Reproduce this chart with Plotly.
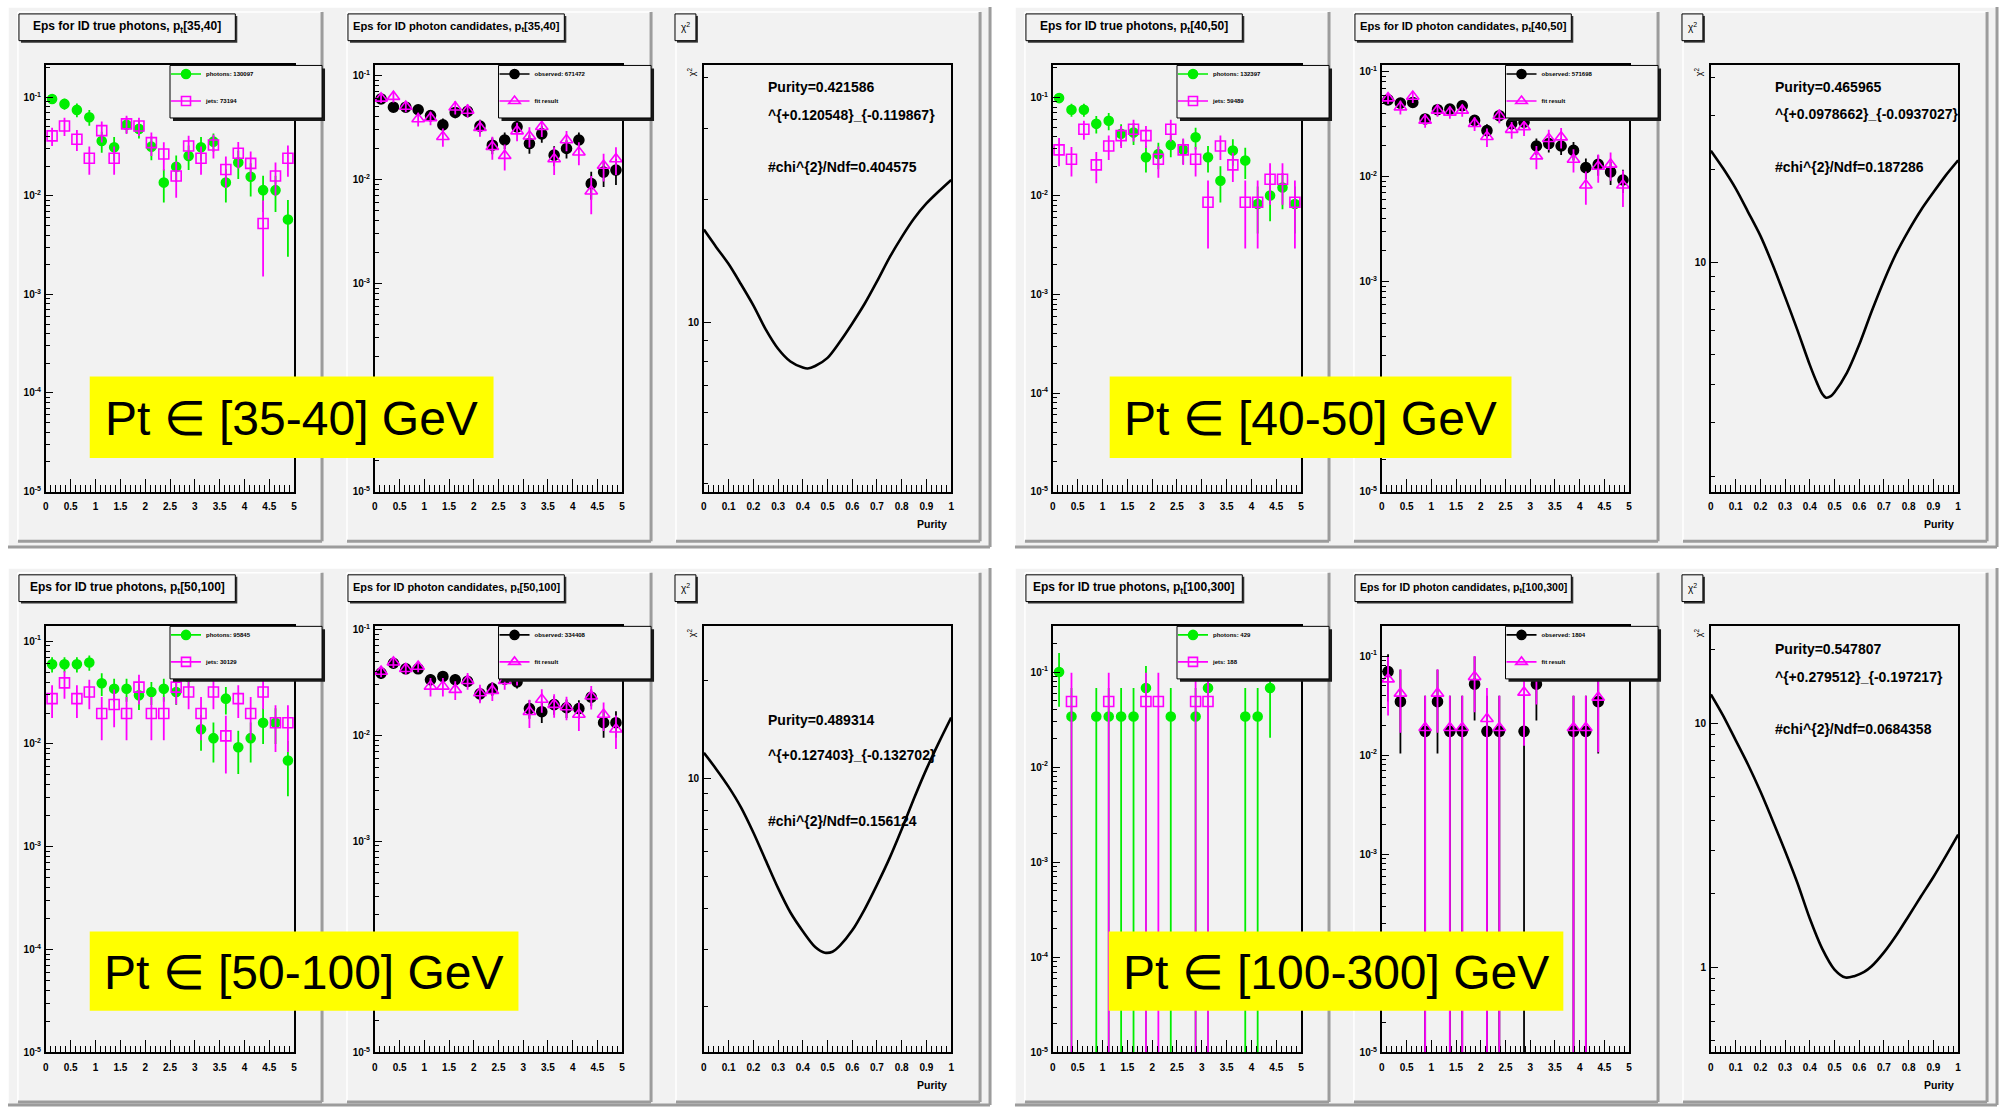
import plotly.graph_objects as go

W, H = 2010, 1112

# ---------------------------------------------------------------- data
BIN_CENTERS = [0.125, 0.375, 0.625, 0.875, 1.125, 1.375, 1.625, 1.875, 2.125, 2.375,
               2.625, 2.875, 3.125, 3.375, 3.625, 3.875, 4.125, 4.375, 4.625, 4.875]
X_TICKS = [0, 0.5, 1, 1.5, 2, 2.5, 3, 3.5, 4, 4.5, 5]
X_TICK_TEXT = ["0", "0.5", "1", "1.5", "2", "2.5", "3", "3.5", "4", "4.5", "5"]
PUR_TICKS = [0, 0.1, 0.2, 0.3, 0.4, 0.5, 0.6, 0.7, 0.8, 0.9, 1]
PUR_TICK_TEXT = ["0", "0.1", "0.2", "0.3", "0.4", "0.5", "0.6", "0.7", "0.8", "0.9", "1"]
Y_DECADES = [1e-5, 1e-4, 1e-3, 1e-2, 1e-1]
Y_DECADE_TEXT = ["10<sup>-5</sup>", "10<sup>-4</sup>", "10<sup>-3</sup>", "10<sup>-2</sup>", "10<sup>-1</sup>"]
# panel-2 decade labels: the 10^-4 label sits underneath the yellow banner
Y_DECADE_TEXT_P2 = ["10<sup>-5</sup>", "", "10<sup>-3</sup>", "10<sup>-2</sup>", "10<sup>-1</sup>"]

PT_BINS = ["[35,40]", "[40,50]", "[50,100]", "[100,300]"]
PT_LABELS = ["Pt \u2208 [35-40] GeV", "Pt \u2208 [40-50] GeV", "Pt \u2208 [50-100] GeV", "Pt \u2208 [100-300] GeV"]
PHOTON_COUNTS = ["photons: 130097", "photons: 132397", "photons: 95845", "photons: 429"]
JET_COUNTS = ["jets: 73194", "jets: 59489", "jets: 30129", "jets: 188"]
OBSERVED_COUNTS = ["observed: 671472", "observed: 571698", "observed: 334408", "observed: 1804"]

# --- pt [35,40]
A_PHOT = [0.096, 0.0855, 0.0743, 0.0627, 0.036, 0.031, 0.0524, 0.0477, 0.0315, 0.0136,
          0.0197, 0.0253, 0.031, 0.0354, 0.0136, 0.0217, 0.0156, 0.0114, 0.0114, 0.00575]
A_PHOT_REL = [0.11, 0.13, 0.16, 0.18, 0.24, 0.27, 0.18, 0.2, 0.27, 0.37,
              0.3, 0.28, 0.27, 0.21, 0.37, 0.32, 0.37, 0.4, 0.4, 0.58]
A_JETS = [0.0405, 0.0511, 0.0374, 0.024, 0.0458, 0.024, 0.0536, 0.0511, 0.0346, 0.0265,
          0.0159, 0.032, 0.024, 0.0327, 0.0185, 0.027, 0.0213, 0.00523, 0.0159, 0.024]
A_JETS_REL = [0.21, 0.21, 0.24, 0.32, 0.24, 0.32, 0.21, 0.21, 0.27, 0.32,
              0.4, 0.27, 0.32, 0.27, 0.35, 0.3, 0.32, 0.71, 0.37, 0.35]
A_OBS = [0.0593, 0.0494, 0.0494, 0.0467, 0.041, 0.0334, 0.044, 0.045, 0.0325, 0.0213,
         0.0239, 0.032, 0.0221, 0.0274, 0.0171, 0.0198, 0.0239, 0.0091, 0.01175, 0.0123]
A_OBS_REL = [0.1, 0.1, 0.1, 0.1, 0.12, 0.15, 0.12, 0.12, 0.15, 0.18,
             0.18, 0.15, 0.2, 0.18, 0.22, 0.2, 0.18, 0.3, 0.28, 0.28]
A_FIT = [0.0601, 0.0624, 0.0501, 0.038, 0.0389, 0.0257, 0.0494, 0.0459, 0.0313, 0.0206,
         0.0169, 0.0291, 0.026, 0.032, 0.0157, 0.0239, 0.0182, 0.0077, 0.0136, 0.0157]
A_FIT_REL = [0.1, 0.12, 0.12, 0.15, 0.15, 0.2, 0.15, 0.15, 0.18, 0.25,
             0.28, 0.2, 0.22, 0.2, 0.3, 0.22, 0.25, 0.4, 0.3, 0.3]
A_CHI_X = [0, 0.05, 0.1, 0.15, 0.2, 0.25, 0.3, 0.35, 0.4, 0.42, 0.45, 0.5, 0.55, 0.6, 0.65,
           0.7, 0.75, 0.8, 0.85, 0.9, 0.95, 1.0]
A_CHI_Y = [16.9, 15.3, 13.9, 12.4, 11.0, 9.6, 8.6, 8.0, 7.73, 7.69, 7.8, 8.17, 8.95, 9.93, 11.1,
           12.6, 14.4, 16.2, 18.0, 19.6, 21.0, 22.4]
A_TEXT = ["Purity=0.421586", "^{+0.120548}_{-0.119867}", "#chi^{2}/Ndf=0.404575"]

# --- pt [40,50]
B_PHOT = [0.0985, 0.075, 0.075, 0.054, 0.058, 0.0428, 0.044, 0.0247, 0.0267, 0.033,
          0.0294, 0.0395, 0.0247, 0.0143, 0.0289, 0.0229, 0.0083, 0.0101, 0.0122, 0.0083]
B_PHOT_REL = [0.1, 0.15, 0.15, 0.2, 0.2, 0.25, 0.25, 0.3, 0.3, 0.25,
              0.28, 0.25, 0.3, 0.4, 0.3, 0.35, 0.5, 0.45, 0.4, 0.5]
B_JETS = [0.0294, 0.0236, 0.0476, 0.0207, 0.0322, 0.041, 0.0476, 0.041, 0.0236, 0.0476,
          0.0294, 0.0236, 0.00863, 0.0322, 0.0207, 0.00863, 0.00863, 0.0148, 0.0148, 0.00863]
B_JETS_REL = [0.32, 0.33, 0.22, 0.35, 0.28, 0.25, 0.25, 0.25, 0.35, 0.25,
              0.3, 0.33, 0.66, 0.28, 0.33, 0.66, 0.66, 0.45, 0.45, 0.66]
B_OBS = [0.054, 0.0502, 0.051, 0.0355, 0.0435, 0.044, 0.0474, 0.0344, 0.0275, 0.0381,
         0.032, 0.033, 0.0196, 0.0207, 0.0196, 0.0178, 0.0122, 0.0131, 0.0111, 0.0093]
B_OBS_REL = [0.1, 0.1, 0.1, 0.12, 0.1, 0.1, 0.1, 0.12, 0.15, 0.12,
             0.13, 0.13, 0.18, 0.18, 0.18, 0.2, 0.22, 0.22, 0.25, 0.25]
B_FIT = [0.056, 0.046, 0.058, 0.0344, 0.0428, 0.041, 0.0428, 0.032, 0.024, 0.0381,
         0.0281, 0.0298, 0.0157, 0.023, 0.0238, 0.0146, 0.0083, 0.0125, 0.0131, 0.0083]
B_FIT_REL = [0.12, 0.15, 0.13, 0.15, 0.13, 0.13, 0.13, 0.15, 0.2, 0.15,
             0.18, 0.18, 0.25, 0.22, 0.22, 0.25, 0.35, 0.3, 0.3, 0.38]
B_CHI_X = [0, 0.05, 0.1, 0.15, 0.2, 0.25, 0.3, 0.35, 0.4, 0.43, 0.45, 0.466, 0.485, 0.5, 0.55,
           0.6, 0.65, 0.7, 0.75, 0.8, 0.85, 0.9, 0.95, 1.0]
B_CHI_Y = [23.1, 20.2, 17.4, 14.6, 12.2, 9.8, 7.7, 6.0, 4.62, 4.02, 3.72, 3.61, 3.65, 3.76, 4.35,
           5.38, 6.9, 8.7, 10.7, 12.7, 14.8, 16.9, 19.2, 21.5]
B_TEXT = ["Purity=0.465965", "^{+0.0978662}_{-0.0937027}", "#chi^{2}/Ndf=0.187286"]

# --- pt [50,100]
C_PHOT = [0.0597, 0.0597, 0.0597, 0.062, 0.039, 0.0344, 0.0344, 0.0297, 0.032, 0.0344,
          0.032, 0.045, 0.0139, 0.0114, 0.0276, 0.0093, 0.0114, 0.0161, 0.0161, 0.0069]
C_PHOT_REL = [0.17, 0.17, 0.17, 0.17, 0.25, 0.25, 0.25, 0.28, 0.25, 0.25,
              0.25, 0.2, 0.38, 0.42, 0.3, 0.45, 0.42, 0.38, 0.38, 0.55]
C_JETS = [0.0276, 0.0393, 0.0276, 0.032, 0.0198, 0.0242, 0.0198, 0.0357, 0.0198, 0.0198,
          0.0357, 0.032, 0.0198, 0.032, 0.012, 0.0276, 0.0198, 0.032, 0.0161, 0.0161]
C_JETS_REL = [0.35, 0.3, 0.35, 0.32, 0.45, 0.4, 0.45, 0.32, 0.45, 0.45,
              0.32, 0.32, 0.45, 0.32, 0.57, 0.35, 0.45, 0.32, 0.48, 0.48]
C_OBS = [0.0387, 0.048, 0.0425, 0.0425, 0.0335, 0.036, 0.0335, 0.0323, 0.0246, 0.0276,
         0.034, 0.0319, 0.0179, 0.0167, 0.0195, 0.0182, 0.0179, 0.0229, 0.01315, 0.01315]
C_OBS_REL = [0.12, 0.1, 0.1, 0.1, 0.12, 0.12, 0.12, 0.12, 0.15, 0.15,
             0.12, 0.13, 0.2, 0.22, 0.2, 0.2, 0.2, 0.18, 0.28, 0.28]
C_FIT = [0.0401, 0.0491, 0.0425, 0.0447, 0.029, 0.029, 0.027, 0.0328, 0.0251, 0.0264,
         0.0328, 0.036, 0.0167, 0.0218, 0.0195, 0.0185, 0.0157, 0.0234, 0.0157, 0.0114]
C_FIT_REL = [0.12, 0.12, 0.12, 0.12, 0.2, 0.2, 0.2, 0.18, 0.2, 0.2,
             0.18, 0.18, 0.3, 0.25, 0.25, 0.25, 0.3, 0.25, 0.3, 0.35]
C_CHI_X = [0, 0.05, 0.1, 0.15, 0.2, 0.25, 0.3, 0.35, 0.4, 0.45, 0.489, 0.52, 0.55, 0.6, 0.65,
           0.7, 0.75, 0.8, 0.85, 0.9, 0.95, 1.0]
C_CHI_Y = [12.0, 10.7, 9.44, 8.17, 6.84, 5.62, 4.62, 3.89, 3.41, 3.05, 2.93, 2.95, 3.08, 3.43, 3.98,
           4.73, 5.69, 7.0, 8.71, 10.7, 12.9, 15.4]
C_TEXT = ["Purity=0.489314", "^{+0.127403}_{-0.132702}", "#chi^{2}/Ndf=0.156124"]

# --- pt [100,300]  (None = empty bin)
D_PHOT = [0.1, 0.034, None, 0.034, 0.034, 0.034, 0.034, 0.068, None, 0.034,
          None, 0.034, 0.068, None, None, 0.034, 0.034, 0.068, None, None]
D_PHOT_UP = [0.58, 1.0, None, 1.0, 1.0, 1.0, 1.0, 0.7, None, 1.0,
             None, 1.0, 0.7, None, None, 1.0, 1.0, 0.7, None, None]
D_PHOT_DN = [0.57, 1.0, None, 1.0, 1.0, 1.0, 1.0, 1.0, None, 1.0,
             None, 1.0, 1.0, None, None, 1.0, 1.0, 0.7, None, None]
D_JETS = [None, 0.049, None, None, 0.049, None, None, 0.049, 0.049, None,
          None, 0.049, 0.049, None, None, None, None, None, None, None]
D_JETS_UP = [None, 1.0, None, None, 1.0, None, None, 1.0, 1.0, None,
             None, 1.0, 1.0, None, None, None, None, None, None, None]
D_JETS_DN = D_JETS_UP
D_OBS = [0.0697, 0.0347, None, 0.0174, 0.0347, 0.0174, 0.0174, 0.052, 0.0174, 0.0174,
         None, 0.0174, 0.052, None, None, 0.0174, 0.0174, 0.0347, None, None]
D_OBS_UP = [0.5, 1.1, None, 1.29, 1.1, 1.29, 1.29, 0.9, 1.29, 1.29,
            None, 1.29, 0.9, None, None, 1.29, 1.29, 1.1, None, None]
D_OBS_DN = [0.5, 0.7, None, 1.0, 0.7, 1.0, 1.0, 0.57, 1.0, 1.0,
            None, 1.0, 0.57, None, None, 1.0, 1.0, 0.7, None, None]
D_FIT = [0.0585, 0.042, None, 0.0189, 0.042, 0.0189, 0.0189, 0.0617, 0.0233, 0.0189,
         None, 0.043, 0.065, None, None, 0.0189, 0.0189, 0.0383, None, None]
D_FIT_UP = [0.71, 0.75, None, 1.1, 0.75, 1.1, 1.1, 0.62, 1.04, 1.1,
            None, 0.8, 0.6, None, None, 1.1, 1.1, 0.71, None, None]
D_FIT_DN = [0.57, 0.6, None, 1.0, 0.6, 1.0, 1.0, 0.56, 1.0, 1.0,
            None, 0.71, 0.5, None, None, 1.0, 1.0, 0.72, None, None]
D_CHI_X = [0, 0.05, 0.1, 0.15, 0.2, 0.25, 0.3, 0.35, 0.4, 0.45, 0.5, 0.545, 0.58, 0.62, 0.65,
           0.7, 0.75, 0.8, 0.85, 0.9, 0.95, 1.0]
D_CHI_Y = [13.1, 10.7, 8.51, 6.76, 5.25, 3.98, 2.99, 2.21, 1.58, 1.19, 0.977, 0.906, 0.918, 0.955, 1.007,
           1.148, 1.35, 1.62, 1.95, 2.34, 2.85, 3.49]
D_TEXT = ["Purity=0.547807", "^{+0.279512}_{-0.197217}", "#chi^{2}/Ndf=0.0684358"]

# axis ranges (log10) per block
EFF_YMAX_LOG = [(-0.678, -0.905), (-0.675, -0.94), (-0.856, -0.97), (-0.52, -0.70)]
CHI_RANGE_LOG = [(0.583, 1.632), (0.251, 1.642), (0.161, 1.467), (-0.35, 1.396)]
CHI_TICKS = [[10], [10], [10], [1, 10]]
CHI_MINOR = [[4, 5, 6, 7, 8, 9, 20, 30, 40],
             [2, 3, 4, 5, 6, 7, 8, 9, 20, 30, 40],
             [2, 3, 4, 5, 6, 7, 8, 9, 20],
             [0.5, 0.6, 0.7, 0.8, 0.9, 2, 3, 4, 5, 6, 7, 8, 9, 20]]

# ---------------------------------------------------------------- layout geometry (pixels)
BLOCK_OFF = [(0, 0), (1010, 0), (0, 566), (1010, 566)]
PAD_X0 = [15, 345, 675]
PAD_W = 305
PAD_Y = (8, 542)
FRAME_X = [(43, 292), (373, 621), (703, 951)]
FRAME_Y = (62, 492)
CANVAS = (5, 3, 990, 548)
YELLOW = [(87, 376, 492, 458), (1110, 376, 1513, 458), (87, 936, 517, 1016), (1109, 936, 1565, 1016)]
CHI_TEXT_Y = [(84, 112, 164), (84, 111, 164), (722, 758, 824), (651, 679, 732)]
TITLE_SIZE = [(12, 11.2), (12, 11.2), (12, 10.9), (12, 10.6)]

PAD_COLOR = "#f2f2f2"
SHADOW = "#9c9c9c"
GREEN = "#00ee00"
MAGENTA = "#ff00ff"
FONT = "Liberation Sans"

blocks = [
    dict(phot=A_PHOT, phot_up=A_PHOT_REL, phot_dn=A_PHOT_REL, jets=A_JETS, jets_up=A_JETS_REL, jets_dn=A_JETS_REL,
         obs=A_OBS, obs_up=A_OBS_REL, obs_dn=A_OBS_REL, fit=A_FIT, fit_up=A_FIT_REL, fit_dn=A_FIT_REL,
         chix=A_CHI_X, chiy=A_CHI_Y, text=A_TEXT),
    dict(phot=B_PHOT, phot_up=B_PHOT_REL, phot_dn=B_PHOT_REL, jets=B_JETS, jets_up=B_JETS_REL, jets_dn=B_JETS_REL,
         obs=B_OBS, obs_up=B_OBS_REL, obs_dn=B_OBS_REL, fit=B_FIT, fit_up=B_FIT_REL, fit_dn=B_FIT_REL,
         chix=B_CHI_X, chiy=B_CHI_Y, text=B_TEXT),
    dict(phot=C_PHOT, phot_up=C_PHOT_REL, phot_dn=C_PHOT_REL, jets=C_JETS, jets_up=C_JETS_REL, jets_dn=C_JETS_REL,
         obs=C_OBS, obs_up=C_OBS_REL, obs_dn=C_OBS_REL, fit=C_FIT, fit_up=C_FIT_REL, fit_dn=C_FIT_REL,
         chix=C_CHI_X, chiy=C_CHI_Y, text=C_TEXT),
    dict(phot=D_PHOT, phot_up=D_PHOT_UP, phot_dn=D_PHOT_DN, jets=D_JETS, jets_up=D_JETS_UP, jets_dn=D_JETS_DN,
         obs=D_OBS, obs_up=D_OBS_UP, obs_dn=D_OBS_DN, fit=D_FIT, fit_up=D_FIT_UP, fit_dn=D_FIT_DN,
         chix=D_CHI_X, chiy=D_CHI_Y, text=D_TEXT),
]

# ---------------------------------------------------------------- helpers
fig = go.Figure()
shapes, annots, axes, legends = [], [], {}, {}


def X(px):
    return px / W


def Y(py):
    return 1 - py / H


def rect(x0, y0, x1, y1, fill, line=None, lw=0, layer="below"):
    shapes.append(dict(type="rect", xref="paper", yref="paper", x0=X(x0), x1=X(x1), y0=Y(y1), y1=Y(y0),
                       fillcolor=fill, line=dict(color=line or fill, width=lw), layer=layer))


def seg(x0, y0, x1, y1, color, lw, layer="below"):
    shapes.append(dict(type="line", xref="paper", yref="paper", x0=X(x0), x1=X(x1), y0=Y(y0), y1=Y(y1),
                       line=dict(color=color, width=lw), layer=layer))


def text(x, y, s, size, bold=True, xanchor="left", yanchor="middle", angle=0, color="black", family=FONT):
    annots.append(dict(xref="paper", yref="paper", x=X(x), y=Y(y), text=s, showarrow=False,
                       xanchor=xanchor, yanchor=yanchor, textangle=angle,
                       font=dict(family=family, size=size, color=color, weight="bold" if bold else "normal")))


def raised(x0, y0, x1, y1, fill):
    rect(x0, y0, x1, y1, fill)
    seg(x0, y0, x1, y0, "white", 1.5)
    seg(x0, y0, x0, y1, "white", 1.5)
    seg(x1, y0, x1, y1, SHADOW, 3)
    seg(x0, y1, x1, y1, SHADOW, 3)


def errs(vals, rel):
    return [v * r if (v is not None and r is not None) else None for v, r in zip(vals, rel)]


def data_trace(n, vals, up, dn, color, symbol, size):
    return go.Scatter(
        x=BIN_CENTERS, y=vals, mode="markers", xaxis=f"x{n}", yaxis=f"y{n}", showlegend=False,
        hoverinfo="skip",
        marker=dict(symbol=symbol, size=size, color=color, line=dict(color=color, width=1.6)),
        error_y=dict(type="data", symmetric=False, array=errs(vals, up), arrayminus=errs(vals, dn),
                     width=0, thickness=1.8, color=color))


def legend_trace(n, name, legend_id, group, color, symbol, size):
    return go.Scatter(
        x=[None], y=[None], mode="lines+markers", xaxis=f"x{n}", yaxis=f"y{n}", name=name,
        legend=legend_id, legendgroup=group, showlegend=True,
        marker=dict(symbol=symbol, size=size, color=color, line=dict(color=color, width=1.6)),
        line=dict(color=color, width=1.6))


tick_font = dict(family=FONT, size=10, color="black", weight="bold")


def x_axis(n, fx, dy, rng, tickvals, ticktext, minor_vals):
    return dict(domain=[X(fx[0]), X(fx[1])], anchor=f"y{n}", range=rng, showline=True, mirror=True,
                linecolor="black", linewidth=1.8, ticks="inside", ticklen=13, tickwidth=1.2, tickcolor="black",
                tickmode="array", tickvals=tickvals, ticktext=ticktext, showgrid=False, zeroline=False,
                tickfont=tick_font, ticklabelstandoff=5, fixedrange=True,
                minor=dict(tickmode="array", tickvals=minor_vals, ticks="inside", ticklen=6.5,
                           tickwidth=1, tickcolor="black", showgrid=False))


def y_axis(n, dy, rng, tickvals, ticktext, minor_vals):
    return dict(domain=[Y(FRAME_Y[1] + dy), Y(FRAME_Y[0] + dy)], anchor=f"x{n}", type="log", range=rng,
                showline=True, mirror=True, linecolor="black", linewidth=1.8, ticks="inside", ticklen=7.5,
                tickwidth=1.2, tickcolor="black", tickmode="array", tickvals=tickvals, ticktext=ticktext,
                showgrid=False, zeroline=False, tickfont=tick_font, ticklabelstandoff=1, fixedrange=True,
                minor=dict(tickmode="array", tickvals=minor_vals, ticks="inside", ticklen=4,
                           tickwidth=1, tickcolor="black", showgrid=False))


X_MINOR = [round(i * 0.1, 1) for i in range(51)]
PUR_MINOR = [round(i * 0.02, 2) for i in range(51)]
Y_MINOR = [m * 10.0 ** d for d in range(-5, 0) for m in range(2, 10)]

# ---------------------------------------------------------------- build
n = 0
leg_count = 0
above_shapes = []
for b, blk in enumerate(blocks):
    dx, dy = BLOCK_OFF[b]
    cx0, cy0, cx1, cy1 = CANVAS
    raised(cx0 + dx, cy0 + dy, cx1 + dx, min(cy1 + dy, H - 1), PAD_COLOR)
    for p in range(3):
        px0 = PAD_X0[p] + dx
        raised(px0, PAD_Y[0] + dy, px0 + PAD_W, PAD_Y[1] + dy, PAD_COLOR)
        fx = (FRAME_X[p][0] + dx, FRAME_X[p][1] + dx)
        fw = fx[1] - fx[0]
        n += 1
        # title box
        if p < 2:
            title = ("Eps for ID true photons, p<sub>t</sub>" if p == 0 else
                     "Eps for ID photon candidates, p<sub>t</sub>") + PT_BINS[b]
            bx0, bx1 = px0 + 1, px0 + 218
            tsize = TITLE_SIZE[b][p]
        else:
            title = "\u03c7<sup>2</sup>"
            bx0, bx1 = px0 - 1, px0 + 20
            tsize = 10
        rect(bx0 + 2, 12 + dy, bx1 + 2, 39 + dy, "#333333")
        rect(bx0, 10 + dy, bx1, 37 + dy, PAD_COLOR, "black", 1)
        text((bx0 + bx1) / 2, 23.5 + dy, title, tsize, bold=(p < 2), xanchor="center")

        if p < 2:
            axes[f"xaxis{n}"] = x_axis(n, fx, dy, [0, 5], X_TICKS, X_TICK_TEXT, X_MINOR)
            ymax = EFF_YMAX_LOG[b][p]
            minors = [v for v in Y_MINOR if v < 10 ** ymax]
            axes[f"yaxis{n}"] = y_axis(n, dy, [-5, ymax], Y_DECADES,
                                       Y_DECADE_TEXT if p == 0 else Y_DECADE_TEXT_P2, minors)
            leg_count += 1
            leg_id = "legend" if leg_count == 1 else f"legend{leg_count}"
            if p == 0:
                fig.add_trace(data_trace(n, blk["phot"], blk["phot_up"], blk["phot_dn"], GREEN, "circle", 9))
                fig.add_trace(data_trace(n, blk["jets"], blk["jets_up"], blk["jets_dn"], MAGENTA, "square-open", 10))
                fig.add_trace(legend_trace(n, PHOTON_COUNTS[b], leg_id, f"g{n}a", GREEN, "circle", 9))
                fig.add_trace(legend_trace(n, JET_COUNTS[b], leg_id, f"g{n}b", MAGENTA, "square-open", 9))
            else:
                fig.add_trace(data_trace(n, blk["obs"], blk["obs_up"], blk["obs_dn"], "black", "circle", 10))
                fig.add_trace(data_trace(n, blk["fit"], blk["fit_up"], blk["fit_dn"], MAGENTA, "triangle-up-open", 11))
                fig.add_trace(legend_trace(n, OBSERVED_COUNTS[b], leg_id, f"g{n}a", "black", "circle", 9))
                fig.add_trace(legend_trace(n, "fit result", leg_id, f"g{n}b", MAGENTA, "triangle-up-open", 10))
            # legend box (ROOT TLegend with shadow)
            lx0 = fx[0] + 0.5 * fw
            lx1 = px0 + PAD_W
            ly0, ly1 = FRAME_Y[0] + dy, FRAME_Y[0] + dy + 53
            above_shapes.append(dict(type="rect", xref="paper", yref="paper", x0=X(lx0 + 3), x1=X(lx1 + 3),
                                     y0=Y(ly1 + 3), y1=Y(ly0 + 3), fillcolor="#1a1a1a", line=dict(width=0),
                                     layer="above"))
            above_shapes.append(dict(type="rect", xref="paper", yref="paper", x0=X(lx0), x1=X(lx1),
                                     y0=Y(ly1), y1=Y(ly0), fillcolor=PAD_COLOR,
                                     line=dict(color="black", width=1), layer="above"))
            legends[leg_id] = dict(x=X(lx0 - 4), y=Y(ly0 - 6), xanchor="left", yanchor="top",
                                   bgcolor="rgba(0,0,0,0)", borderwidth=0, tracegroupgap=8, itemwidth=30,
                                   font=dict(family=FONT, size=6, color="black", weight="bold"))
        else:
            axes[f"xaxis{n}"] = x_axis(n, fx, dy, [0, 1], PUR_TICKS, PUR_TICK_TEXT, PUR_MINOR)
            lo, hi = CHI_RANGE_LOG[b]
            ct = CHI_TICKS[b]
            axes[f"yaxis{n}"] = y_axis(n, dy, [lo, hi], ct, [str(v) for v in ct], CHI_MINOR[b])
            fig.add_trace(go.Scatter(x=blk["chix"], y=blk["chiy"], mode="lines", xaxis=f"x{n}", yaxis=f"y{n}",
                                     showlegend=False, hoverinfo="skip",
                                     line=dict(color="black", width=2.6, shape="spline", smoothing=0.8)))
            tx = fx[0] + 0.252 * fw
            for s, ty in zip(blk["text"], CHI_TEXT_Y[b]):
                text(tx, ty, s, 14)
            text(fx[1] - 2, FRAME_Y[1] + dy + 33, "Purity", 10.5, xanchor="right")
            text(px0 + 8, FRAME_Y[0] + dy + 6, "\u03c7<sup>2</sup>", 9, bold=False, angle=-90)

# yellow labels
for b in range(4):
    x0, y0, x1, y1 = YELLOW[b]
    above_shapes.append(dict(type="rect", xref="paper", yref="paper", x0=X(x0), x1=X(x1), y0=Y(y1), y1=Y(y0),
                             fillcolor="#ffff00", line=dict(width=0), layer="above"))
    text((x0 + x1) / 2, (y0 + y1) / 2 + 1, PT_LABELS[b], 48, bold=False, xanchor="center")

fig.update_layout(
    width=W, height=H, margin=dict(l=0, r=0, t=0, b=0), autosize=False,
    paper_bgcolor="white", plot_bgcolor="rgba(0,0,0,0)",
    shapes=shapes + above_shapes, annotations=annots, hovermode=False,
    **axes, **legends,
)

fig.write_html("out.html", config={"displayModeBar": False},
               post_script="document.body.style.margin='0';document.body.style.overflow='hidden';")
